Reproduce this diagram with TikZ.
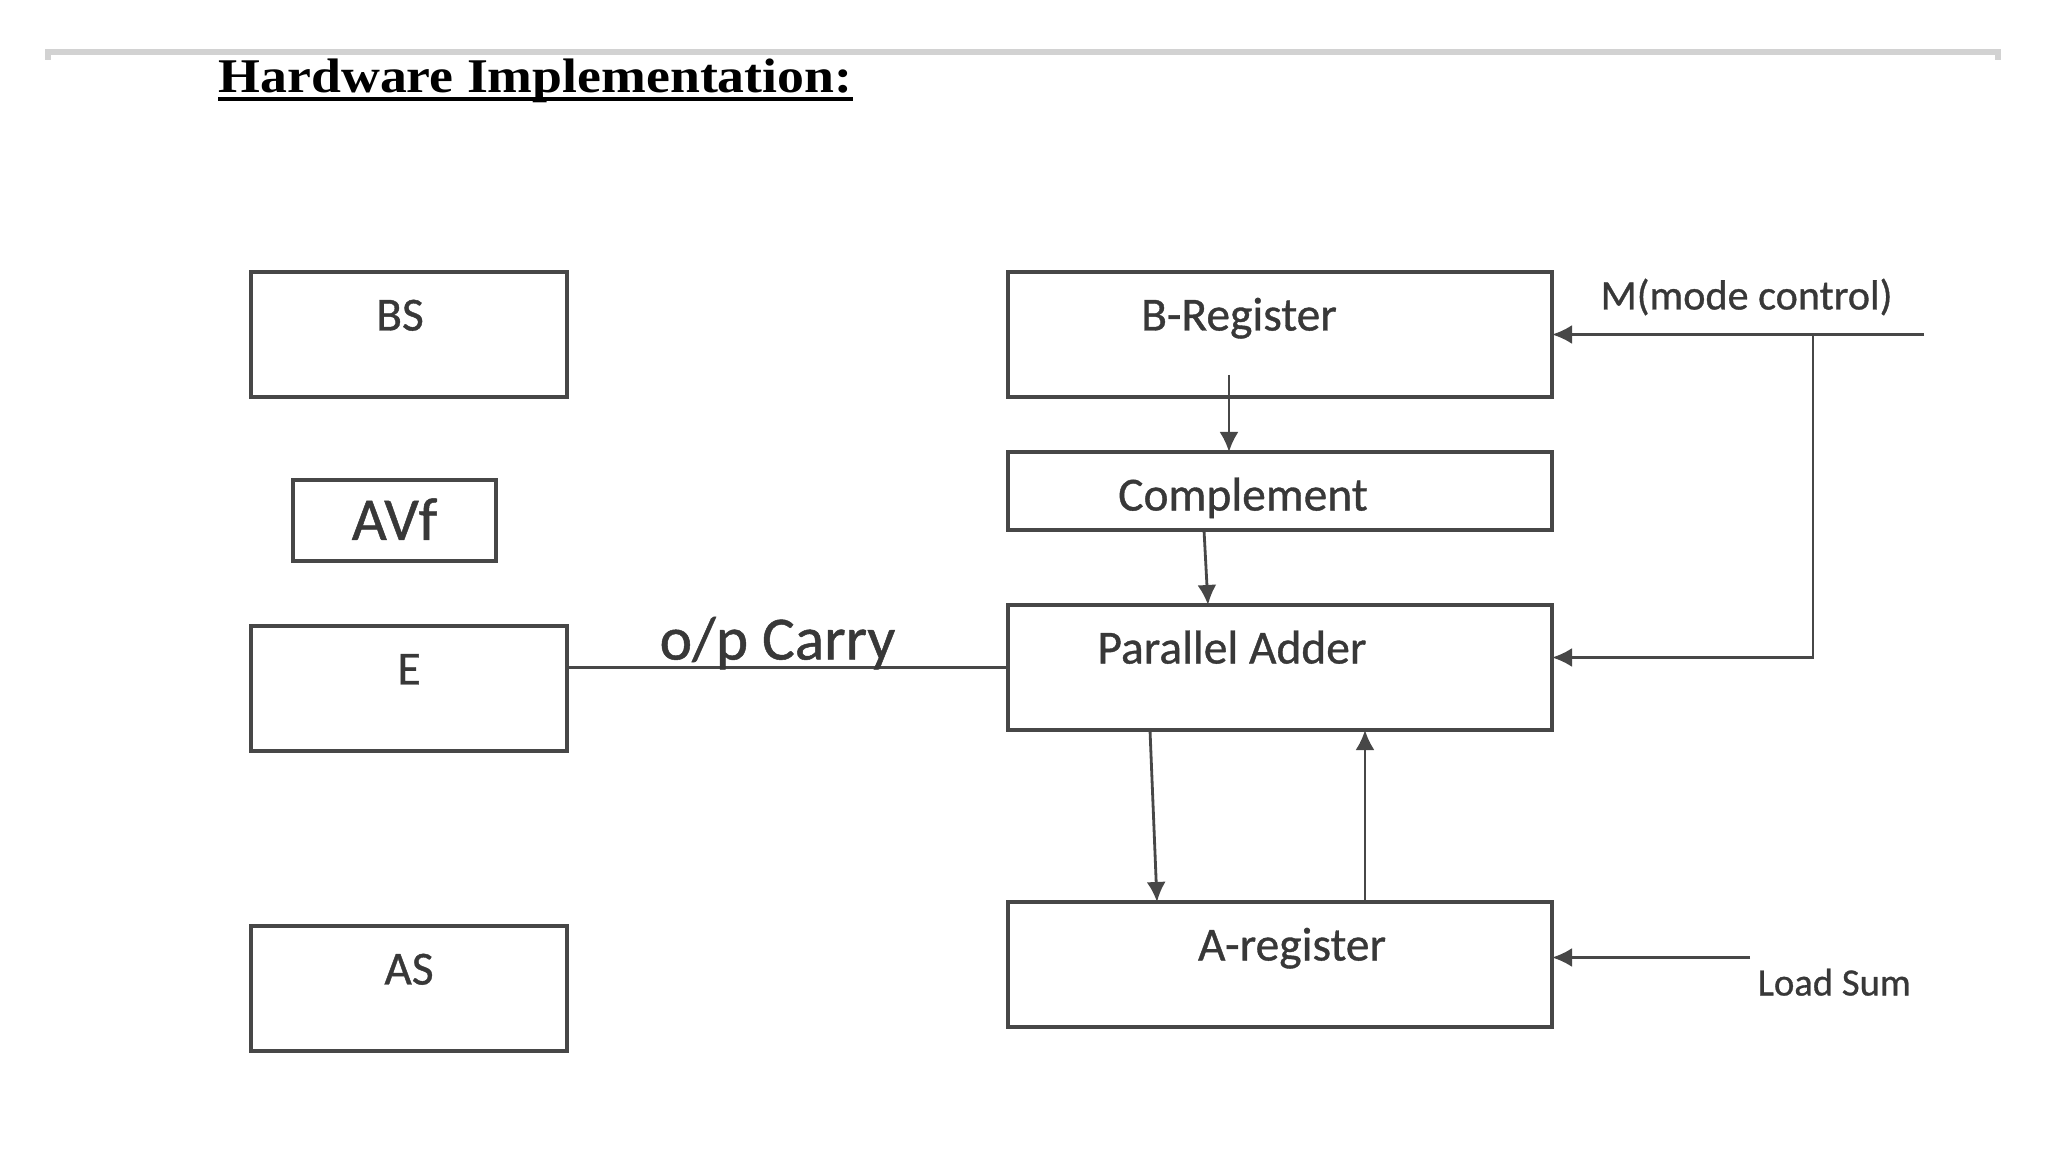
\documentclass[tikz,border=0pt]{standalone}
\usepackage{fontspec}
\setmainfont{Carlito}
\newfontfamily\boxfont[FakeBold=0.8]{Carlito}
\newfontfamily\headfont{Liberation Serif}
\usetikzlibrary{arrows.meta,positioning}

\begin{document}
\begin{tikzpicture}[->,>={Latex[length=2mm,width=1.9mm]},node distance=1cm,
    reg/.style={draw=black!72,line width=1.2pt,minimum width=5.44cm,minimum height=1.25cm,
                inner sep=0pt,outer sep=0pt,text height=0.585cm,text depth=0.665cm,
                font=\boxfont\fontsize{13.5}{14}\selectfont,text=black!78},
    flag/.style={reg,minimum width=3.16cm},
    wire/.style={draw=black!72,line width=0.8pt}]
  \useasboundingbox (0,0) rectangle (20.48,-11.52);

  % page frame and heading
  \draw[-,gray!35,line width=1.5pt] (0.48,-0.6) -- (0.48,-0.52) -- (19.98,-0.52) -- (19.98,-0.6);
  \node[anchor=base west,inner sep=0pt,font=\headfont\bfseries\fontsize{15.3}{15}\selectfont] (title)
    at (2.18,-0.93) {\scalebox{1}[0.9]{Hardware Implementation:}};
  \draw[-,line width=1.3pt] ([yshift=-0.06cm]title.base west) -- ([yshift=-0.06cm]title.base east);

  % flags
  \node[flag,anchor=north west] (bs) at (2.51,-2.72) {\hspace*{-0.18cm}BS};
  \node[flag,minimum width=2.03cm,minimum height=0.81cm,text height=0.6cm,text depth=0.21cm,
        font=\boxfont\fontsize{17.3}{18}\selectfont,below=0.83cm of bs,xshift=-0.145cm] (avf) {AVf};
  \node[flag,below=2.29cm of bs] (e) {E};
  \node[flag,below=1.75cm of e] (as) {AS};

  % registers
  \node[reg,right=4.41cm of bs] (breg) {\hspace*{-0.82cm}B-Register};
  \node[reg,minimum height=0.78cm,text depth=0.195cm,below=0.55cm of breg] (comp) {\hspace*{-0.74cm}Complement};
  \node[reg,below=0.75cm of comp] (pa) {\hspace*{-0.96cm}Parallel Adder};
  \node[reg,below=1.72cm of pa] (areg) {\hspace*{0.24cm}A-register};

  \coordinate (mode) at ([xshift=3.72cm]breg.east);
  \coordinate (modejoin) at ([xshift=2.61cm]breg.east);
  \coordinate (load) at ([xshift=1.98cm,yshift=0.07cm]areg.east);

  \draw[wire] ([xshift=-0.51cm,yshift=0.22cm]breg.south) -- ([xshift=-0.51cm]comp.north);
  \draw[wire] ([xshift=-0.76cm]comp.south) -- ([xshift=-0.72cm]pa.north);
  \draw[wire] ([xshift=-1.30cm]pa.south) -- ([xshift=-1.23cm]areg.north);
  \draw[wire] ([xshift=0.85cm]areg.north) -- ([xshift=0.85cm]pa.south);
  \draw[wire,-] (pa.west) -- (pa.west -| e.east)
    node[midway,anchor=base,xshift=-0.1cm,yshift=0.08cm,inner sep=0pt,
         font=\boxfont\fontsize{17.5}{18}\selectfont,text=black!78] (carry) {o/p Carry};

  \draw[wire] (mode) -- (breg.east);
  \draw[wire] (modejoin) |- ([yshift=0.1cm]pa.east);
  \node[anchor=base west,inner sep=0pt,font=\boxfont\fontsize{12}{12}\selectfont,text=black!78] (modelbl)
    at ([xshift=0.48cm,yshift=0.25cm]breg.east) {M(mode control)};

  \draw[wire] (load) -- (areg.east |- load);
  \node[anchor=base west,inner sep=0pt,font=\boxfont\fontsize{11}{11}\selectfont,text=black!78] (loadlbl)
    at ([xshift=0.07cm,yshift=-0.38cm]load) {Load Sum};
\end{tikzpicture}
\end{document}
